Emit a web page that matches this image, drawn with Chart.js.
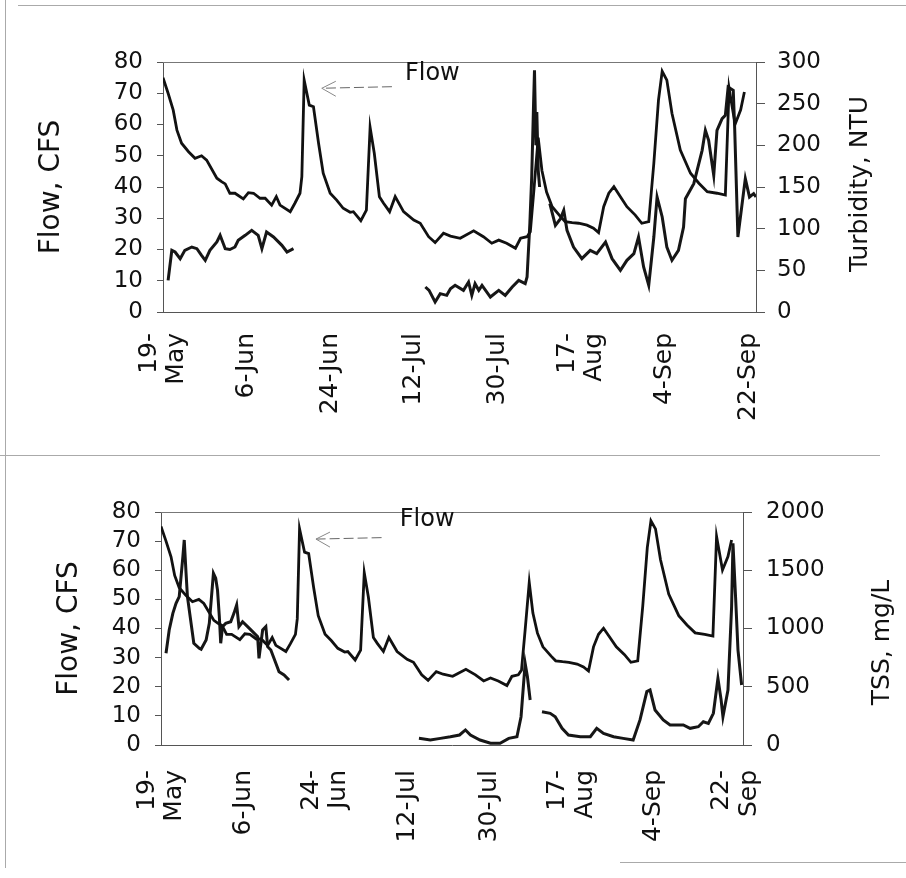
<!DOCTYPE html>
<html>
<head>
<meta charset="utf-8">
<script src="https://cdn.jsdelivr.net/npm/chart.js@4.4.1/dist/chart.umd.min.js"></script>
<style>
html,body{margin:0;padding:0;background:#fff;}
body{width:906px;height:878px;position:relative;overflow:hidden;}
canvas{position:absolute;left:0;}
#c1{top:0;}
#c2{top:455px;}
.rule{position:absolute;background:#aaa;}
</style>
</head>
<body>
<div class="rule" style="left:18px;top:5px;width:888px;height:1px;"></div>
<div class="rule" style="left:5px;top:0;width:1px;height:868px;"></div>
<div class="rule" style="left:0;top:455px;width:880px;height:1px;"></div>
<div class="rule" style="left:620px;top:862px;width:286px;height:1px;"></div>
<canvas id="c1" width="906" height="455"></canvas>
<canvas id="c2" width="906" height="423"></canvas>
<script>
// x positions are days since 19-May
const xTickDays = [0, 18, 36, 54, 72, 90, 108, 126];
const topXLabels = [['19-', 'May'], '6-Jun', '24-Jun', '12-Jul', '30-Jul', ['17-', 'Aug'], '4-Sep', '22-Sep'];
const bottomXLabels = [['19-', 'May'], '6-Jun', ['24-', 'Jun'], '12-Jul', '30-Jul', ['17-', 'Aug'], '4-Sep', ['22-', 'Sep']];

// Flow, CFS (same record in both panels)
const flowDay = [0,1.1,2.2,3,4,5.5,6.9,8.3,9.4,11.6,12.6,13.4,14.4,15.5,17.3,18.4,19.5,20.9,22,23.4,24.4,25.2,27.4,28.4,29.5,29.9,30.4,31.5,32.4,33.5,34.5,36,37.4,38.8,40.3,41,42.6,43.8,44.6,45.5,46.6,47.5,48.8,50,51.8,54,55.4,57.2,58.6,60.4,61.9,64,66.9,69,70.8,72.3,74,75.9,77,78.4,79.1,79.9,80.8,81.6,82.6,83.8,85.6,86.6,88.1,89.5,91.3,92.7,93.8,94.9,96,97.1,98.5,99.9,101.7,103.1,104.6,105.7,106.7,107.5,108.5,109.6,111.4,113.6,115.4,117.2,119.3,121.1,121.9,123.2,124.4,125.2];
const flowCfs = [75,70,64.6,58.2,54,51.3,49.2,50,48.6,42.8,41.7,41,38,38,36.2,38.2,38,36.4,36.4,34.2,36.9,34.2,32.1,34.8,38,43.3,74.2,66.2,65.7,54,44.4,38,35.8,33.2,31.9,32.1,29.2,32.6,59.1,50.8,36.9,34.8,32.1,36.9,32.1,29.4,28.4,24.1,22.2,25.2,24.3,23.6,26,24.1,22,23,22,20.4,23.6,24.1,25.7,39.5,55.8,45.3,38.4,33.7,30.5,28.9,28.6,28.4,27.8,26.8,25.4,33.7,38,40.1,36.9,33.7,31,28.4,28.9,47.6,67.8,77,74.2,63.6,51.8,44.4,41.2,38.5,38,37.4,71.6,60.1,64.7,70.4];

// Turbidity, NTU (null = no record)
const turbDay = [1.1,1.9,2.6,3.7,4.7,6.2,7.3,8.3,9.1,10.1,11.6,12.3,13.4,14.4,15.5,16.2,17.7,19.1,20.5,21.3,22.3,23.8,25.6,26.7,28.1,40,56.5,57.3,58.6,59.7,61.1,61.9,62.9,64.7,65.8,66.5,67.2,68,68.7,70.5,72.3,73.7,75.2,76.6,78,78.4,79,79.4,79.8,80,80.3,80.5,80.8,81.1,82,83.3,84.5,85.6,86.3,87,88.4,90.2,92,93.4,95.3,96.7,98.5,99.9,101.4,102.4,103.5,104.6,105.7,106.4,107.5,108.5,109.6,111,112.1,112.5,114.3,116.1,116.8,117.5,118.6,119.3,120.4,121.1,121.7,122.8,123.1,123.8,125.4,126.3,127.2,127.7];
const turbNtu = [38,74,72,64,74,78,76,68,62,74,84,92,76,75,78,86,92,98,92,76,96,90,80,72,76,null,30,26,12,22,20,28,32,26,36,20,34,26,32,18,26,20,30,38,34,42,106,162,250,290,200,240,170,150,null,130,104,112,122,98,78,64,74,70,84,64,50,62,70,90,54,32,90,138,114,78,62,74,102,136,154,194,218,206,164,218,232,236,270,266,222,90,160,138,142,138];

// TSS, mg/L (null = no record)
const tssDay = [1.1,1.8,2.6,3.3,4,4.8,5.1,5.5,5.8,7.2,8.4,8.8,9.9,10.6,11.5,12,12.4,12.8,13.1,13.5,14.2,15.3,16,16.6,17.1,17.9,19,20.1,21.2,21.5,22.3,23,23.4,24.1,25.2,25.9,27,28.1,40,56.6,59.1,61.3,63.5,65.5,66.8,67.9,70,72.3,74.4,76.3,78.1,79,79.9,80.4,81,82,83.6,85.4,86.5,88,89.4,92,94.2,95.6,97.1,99.3,101.4,103.6,105.1,106.6,107.3,108.4,110.2,111.7,114.6,116.1,117.9,119,120.1,121.2,122.2,122.9,123.3,124.4,125.2,125.5,126.1,126.6,127.4];
const tssMgL = [787,987,1130,1216,1273,1616,1760,1474,1273,873,830,822,901,1044,1474,1431,1330,1101,873,1016,1044,1058,1130,1202,1016,1058,1016,973,930,744,987,1016,844,815,701,629,601,558,null,57,43,57,71,86,129,86,43,15,15,57,71,243,701,586,386,null,286,272,243,143,86,71,71,143,100,71,57,43,215,458,472,300,215,172,172,143,157,200,186,272,572,386,243,472,1187,1731,1245,815,515];

const FONT = 'DejaVu Sans';
const INK = '#111';
const X_FONT_SIZE = 25, X_LINE_HEIGHT = 1.1;

function pts(days, vals) {
  const n = Math.min(days.length, vals.length);
  const out = [];
  for (let i = 0; i < n; i++) out.push({x: days[i], y: vals[i]});
  return out;
}

const overlay = {
  id: 'overlay',
  afterDatasetsDraw(chart, args, o) {
    const {ctx, chartArea: a, scales} = chart;
    const x = scales.x, y = scales.y;
    ctx.save();
    // top frame of plot area
    ctx.strokeStyle = '#777';
    ctx.lineWidth = 1;
    ctx.beginPath();
    ctx.moveTo(a.left, a.top + 0.5);
    ctx.lineTo(a.right, a.top + 0.5);
    ctx.stroke();
    // "Flow" arrow
    const tx = x.getPixelForValue(o.tip[0]), ty = y.getPixelForValue(o.tip[1]);
    const lx = x.getPixelForValue(o.tail[0]), ly = y.getPixelForValue(o.tail[1]);
    ctx.strokeStyle = '#666';
    ctx.setLineDash([10, 4]);
    ctx.beginPath(); ctx.moveTo(lx, ly); ctx.lineTo(tx, ty); ctx.stroke();
    ctx.setLineDash([]);
    ctx.strokeStyle = '#888';
    ctx.beginPath();
    ctx.moveTo(tx + 14, ty - 7); ctx.lineTo(tx, ty); ctx.lineTo(tx + 14, ty + 8);
    ctx.stroke();
    ctx.fillStyle = INK;
    ctx.font = '24px "' + FONT + '"';
    ctx.textAlign = 'left';
    ctx.textBaseline = 'middle';
    ctx.fillText('Flow', x.getPixelForValue(o.label[0]), y.getPixelForValue(o.label[1]));
    // right axis title, reading bottom to top
    ctx.translate(a.right + o.rightTitleOffset, (a.top + a.bottom) / 2 + o.rightTitleShift);
    ctx.rotate(-Math.PI / 2);
    ctx.textAlign = 'center';
    ctx.font = o.rightTitleSize + 'px "' + FONT + '"';
    ctx.fillText(o.rightTitle, 0, 0);
    ctx.restore();
  }
};

function makeChart(id, cfg) {
  // two-line rotated labels are stacked to the right of their anchor; centre them on the date
  const halfLineDays = (X_FONT_SIZE * X_LINE_HEIGHT / 2) / 4.6;
  return new Chart(document.getElementById(id), {
    type: 'line',
    data: {
      datasets: [
        {label: 'Flow', data: pts(flowDay, flowCfs), yAxisID: 'y', borderColor: INK, borderWidth: 2.8,
         pointRadius: 0, tension: 0, spanGaps: false},
        {label: cfg.seriesName, data: pts(cfg.days, cfg.vals), yAxisID: 'y1', borderColor: '#161616', borderWidth: 3,
         pointRadius: 0, tension: 0, spanGaps: false}
      ]
    },
    options: {
      responsive: false,
      animation: false,
      devicePixelRatio: 1,
      layout: {padding: {left: cfg.padLeft, top: cfg.padTop, right: 0, bottom: 0}},
      plugins: {
        legend: {display: false},
        tooltip: {enabled: false},
        overlay: cfg.overlay
      },
      scales: {
        x: {
          type: 'linear', min: 0, max: 127.7,
          afterBuildTicks: s => {
            s.ticks = xTickDays.map((v, i) => ({value: Array.isArray(cfg.xLabels[i]) ? v - halfLineDays : v}));
          },
          ticks: {
            callback: (v, i) => cfg.xLabels[i],
            autoSkip: false, minRotation: 90, maxRotation: 90,
            font: {family: FONT, size: X_FONT_SIZE, lineHeight: X_LINE_HEIGHT}, color: INK, padding: cfg.xPad
          },
          grid: {display: false, drawTicks: true, tickLength: 8},
          border: {display: true, color: '#555', width: 1},
          afterFit: s => { s.height = cfg.xHeight; }
        },
        y: {
          position: 'left', min: 0, max: 80,
          ticks: {stepSize: 10, autoSkip: false, font: {family: FONT, size: 23}, color: INK, padding: 14,
                  callback: v => String(v)},
          grid: {drawOnChartArea: false, drawTicks: true, tickLength: 6, color: '#555'},
          border: {display: true, color: '#555', width: 1},
          title: {display: true, text: 'Flow, CFS', color: INK, font: {family: FONT, size: 28},
                  padding: {top: cfg.leftTitlePad, bottom: 0}},
          afterFit: s => { s.width = cfg.leftWidth; }
        },
        y1: {
          position: 'right', min: 0, max: cfg.rightMax,
          ticks: {stepSize: cfg.rightStep, autoSkip: false, font: {family: FONT, size: 23}, color: INK,
                  padding: cfg.rightPad, callback: v => String(v)},
          grid: {drawOnChartArea: false, drawTicks: true, tickLength: 9, color: '#555'},
          border: {display: true, color: '#555', width: 1},
          afterFit: s => { s.width = cfg.rightWidth; }
        }
      }
    },
    plugins: [overlay]
  });
}

makeChart('c1', {
  seriesName: 'Turbidity', days: turbDay, vals: turbNtu,
  padLeft: 20, padTop: 62, leftWidth: 143, rightWidth: 150, xHeight: 143, xPad: 13,
  leftTitlePad: 15, rightMax: 300, rightStep: 50, rightPad: 12, xLabels: topXLabels,
  overlay: {tip: [34.2, 71.6], tail: [49.3, 72.1], label: [52.1, 76.2],
            rightTitle: 'Turbidity, NTU', rightTitleSize: 25, rightTitleOffset: 104, rightTitleShift: -3}
});

makeChart('c2', {
  seriesName: 'TSS', days: tssDay, vals: tssMgL,
  padLeft: 18, padTop: 57, leftWidth: 143, rightWidth: 163, xHeight: 133, xPad: 17,
  leftTitlePad: 35, rightMax: 2000, rightStep: 500, rightPad: 14, xLabels: bottomXLabels,
  overlay: {tip: [34, 70.7], tail: [48.4, 71.2], label: [52.4, 77.3],
            rightTitle: 'TSS, mg/L', rightTitleSize: 25, rightTitleOffset: 139, rightTitleShift: 14}
});
</script>
</body>
</html>
